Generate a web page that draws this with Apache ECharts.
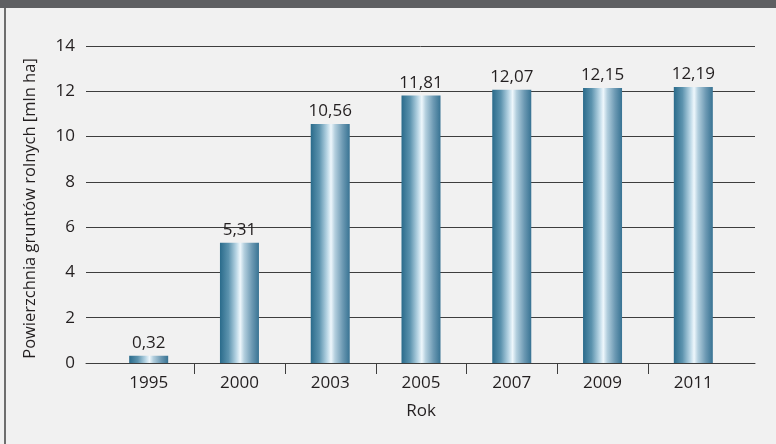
<!DOCTYPE html>
<html>
<head>
<meta charset="utf-8">
<script src="https://cdn.jsdelivr.net/npm/echarts@6/dist/echarts.min.js"></script>
<style>
  html, body { margin: 0; padding: 0; background: #f1f1f1; }
  #frame { position: absolute; left: 4px; top: 0; width: 770px; height: 444px;
           border-left: 2px solid #6e6e6e; border-right: 1px solid #6e6e6e; }
  #band { position: absolute; left: 0; top: 0; width: 776px; height: 8px; background: #5e5f62; }
  #chart { position: absolute; left: 0; top: 0; width: 776px; height: 444px; }
</style>
</head>
<body>
<div id="frame"></div>
<div id="band"></div>
<div id="chart"></div>
<script>
// Data
var years = ['1995', '2000', '2003', '2005', '2007', '2009', '2011'];
var areaValues = [0.32, 5.31, 10.56, 11.81, 12.07, 12.15, 12.19];
var valueLabels = ['0,32', '5,31', '10,56', '11,81', '12,07', '12,15', '12,19'];
var yTicks = { min: 0, max: 14, interval: 2 };
var yAxisTitle = 'Powierzchnia gruntów rolnych [mln ha]';
var xAxisTitle = 'Rok';

var FONT = 'Open Sans';
var FS = 17;
var TXT = '#231f20';
var LINE = '#3e3e3e';

var chart = echarts.init(document.getElementById('chart'), null, { renderer: 'canvas' });

var barGradient = new echarts.graphic.LinearGradient(0, 0, 1, 0, [
  { offset: 0, color: '#2a6b8b' },
  { offset: 0.22, color: '#5c93ae' },
  { offset: 0.42, color: '#b9d6e5' },
  { offset: 0.52, color: '#eef7fc' },
  { offset: 0.62, color: '#b3cfde' },
  { offset: 0.82, color: '#6c99b3' },
  { offset: 1, color: '#387393' }
]);

// boundaries between neighbouring categories (category index to the right of each)
var tickData = [];
for (var i = 1; i < years.length; i++) tickData.push([i, 0]);

var option = {
  backgroundColor: 'transparent',
  animation: false,
  textStyle: { fontFamily: FONT },
  grid: [
    { left: 86, right: 21, top: 46, bottom: 81 },
    { left: 103.3, right: 37.3, top: 46, bottom: 81 }
  ],
  xAxis: [
    { gridIndex: 0, type: 'value', min: 0, max: 1,
      axisLine: { show: true, onZero: false, lineStyle: { color: LINE, width: 1 } },
      axisTick: { show: false }, axisLabel: { show: false }, splitLine: { show: false } },
    { gridIndex: 1, type: 'category', data: years,
      axisLine: { show: false }, axisTick: { show: false },
      axisLabel: { color: TXT, fontSize: FS, fontFamily: FONT, margin: 12 },
      name: xAxisTitle, nameLocation: 'middle', nameGap: 40,
      nameTextStyle: { color: TXT, fontSize: FS, fontFamily: FONT } }
  ],
  yAxis: [
    { gridIndex: 0, type: 'value', min: yTicks.min, max: yTicks.max, interval: yTicks.interval,
      axisLine: { show: false }, axisTick: { show: false },
      axisLabel: { color: TXT, fontSize: FS, fontFamily: FONT, margin: 11 },
      splitLine: { show: true, lineStyle: { color: LINE, width: 1 } },
      name: yAxisTitle, nameLocation: 'middle', nameGap: 47,
      nameTextStyle: { color: TXT, fontSize: 16.5, fontFamily: FONT, padding: [0, 8, 0, 0] } },
    { gridIndex: 1, type: 'value', min: yTicks.min, max: yTicks.max, interval: yTicks.interval,
      show: false }
  ],
  series: [
    { type: 'bar', xAxisIndex: 1, yAxisIndex: 1, data: areaValues, barWidth: 39,
      itemStyle: { color: barGradient },
      label: { show: true, position: 'top', distance: 4, color: TXT, fontSize: FS, fontFamily: FONT,
        formatter: function (p) { return valueLabels[p.dataIndex]; } } },
    { type: 'custom', xAxisIndex: 1, yAxisIndex: 1, data: tickData, clip: false, silent: true, z: 5,
      encode: { x: 0, y: 1 },
      renderItem: function (params, api) {
        var v = api.value(0);
        var a = api.coord([v - 1, 0]);
        var b = api.coord([v, 0]);
        var x = Math.round((a[0] + b[0]) / 2) + 0.5;
        return { type: 'line', shape: { x1: x, y1: a[1], x2: x, y2: a[1] + 11 },
          style: { stroke: LINE, lineWidth: 1 } };
      } }
  ]
};
chart.setOption(option);
</script>
</body>
</html>
